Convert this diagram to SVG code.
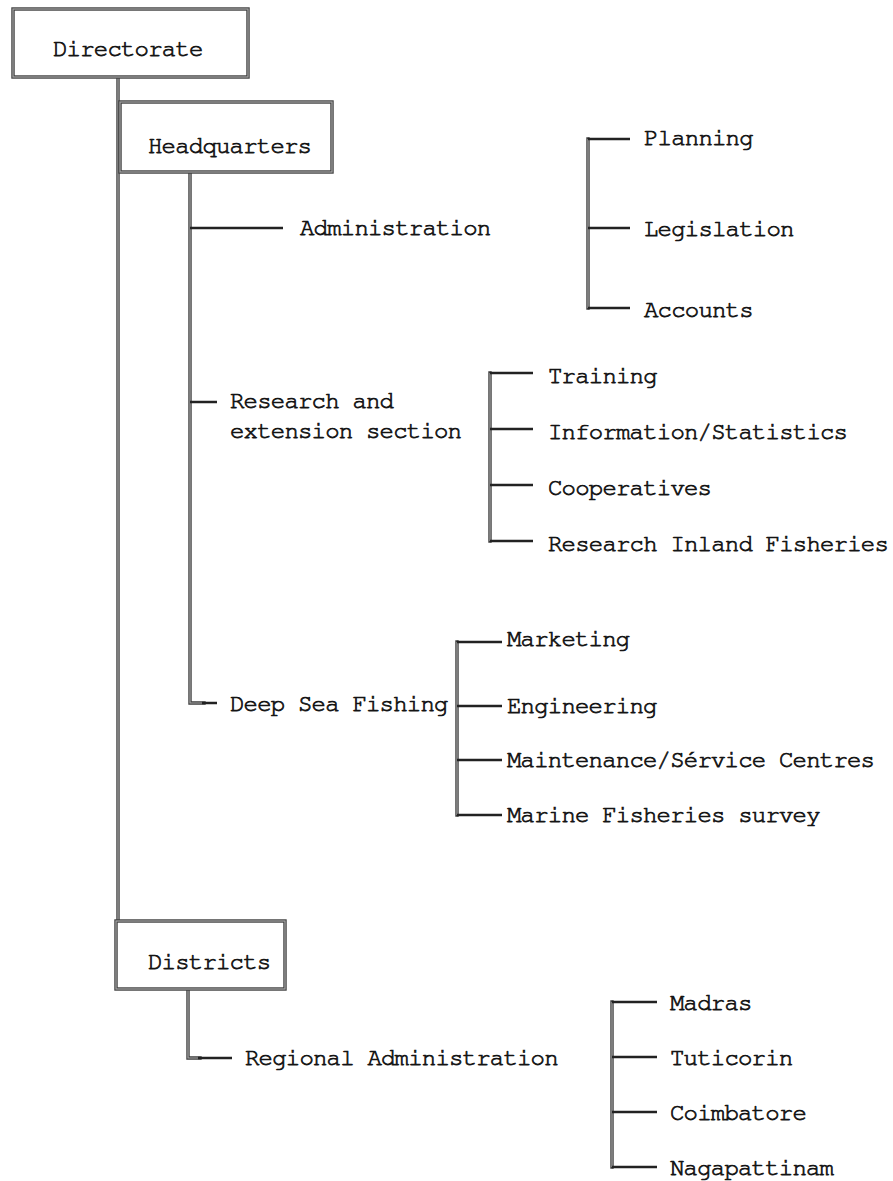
<svg xmlns="http://www.w3.org/2000/svg" xmlns:xlink="http://www.w3.org/1999/xlink" width="893" height="1181" viewBox="0 0 893 1181">
  <style>
    .bg { fill: #ffffff; }
    .t { font-family: "Nimbus Mono PS", "Nimbus Mono L", "FreeMono", "Courier New", "Liberation Mono", monospace; font-size: 24px; letter-spacing: -0.8px; fill: #141414; stroke: #141414; stroke-width: 0.75; }
    .edge { fill: none; stroke: #3c3c3c; stroke-width: 3.4; stroke-linecap: square; stroke-linejoin: miter; }
    .core { fill: none; stroke: #a8a8a8; stroke-width: 1.2; stroke-linecap: butt; }
    .tick { fill: none; stroke: #222; stroke-width: 2.6; stroke-linecap: butt; }
    .box { fill: #ffffff; stroke: #3c3c3c; stroke-width: 3.4; }
    .boxcore { fill: none; stroke: #a8a8a8; stroke-width: 1.2; }
  </style>
  <defs>
    <!-- trunk lines and brackets (pen-drawn, hollow look) -->
    <path id="trunks" d="
      M118 77 V921
      M190 172 V703 H204
      M188 989 V1058 H200
      M588 139 V308
      M490 373 V541
      M457 642 V815
      M612 1002 V1167" />
    <!-- short typed dashes leading to each label -->
    <path id="ticks" d="
      M190 228 H283
      M190 402 H217
      M202 703 H217
      M198 1058 H232
      M588 139 H630 M588 228 H630 M588 308 H630
      M490 373 H533 M490 429 H533 M490 485 H533 M490 541 H533
      M457 642 H502 M457 706 H502 M457 760 H502 M457 815 H502
      M612 1002 H657 M612 1057 H657 M612 1112 H657 M612 1167 H657" />
  </defs>

  <rect class="bg" x="0" y="0" width="893" height="1181" />

  <g id="connectors">
    <use xlink:href="#trunks" href="#trunks" class="edge" />
    <use xlink:href="#trunks" href="#trunks" class="core" />
    <use xlink:href="#ticks" href="#ticks" class="tick" />
  </g>

  <g id="directorate">
    <rect class="box" x="13" y="9" width="235" height="68" />
    <rect class="boxcore" x="13" y="9" width="235" height="68" />
    <text class="t" x="53" y="56">Directorate</text>
  </g>

  <g id="headquarters">
    <rect class="box" x="120" y="102" width="212" height="70" />
    <rect class="boxcore" x="120" y="102" width="212" height="70" />
    <text class="t" x="148" y="153">Headquarters</text>
  </g>

  <g id="administration">
    <text class="t" x="300" y="235">Administration</text>
  </g>
  <g id="planning"><text class="t" x="644" y="145">Planning</text></g>
  <g id="legislation"><text class="t" x="644" y="236">Legislation</text></g>
  <g id="accounts"><text class="t" x="644" y="317">Accounts</text></g>

  <g id="research-extension">
    <text class="t" x="230" y="408">Research and</text>
    <text class="t" x="230" y="438">extension section</text>
  </g>
  <g id="training"><text class="t" x="548" y="383">Training</text></g>
  <g id="information"><text class="t" x="548" y="439">Information/Statistics</text></g>
  <g id="cooperatives"><text class="t" x="548" y="495">Cooperatives</text></g>
  <g id="research-inland"><text class="t" x="548" y="551">Research Inland Fisheries</text></g>

  <g id="deep-sea"><text class="t" x="230" y="711">Deep Sea Fishing</text></g>
  <g id="marketing"><text class="t" x="507" y="646">Marketing</text></g>
  <g id="engineering"><text class="t" x="507" y="713">Engineering</text></g>
  <g id="maintenance"><text class="t" x="507" y="767">Maintenance/Sérvice Centres</text></g>
  <g id="marine-survey"><text class="t" x="507" y="822">Marine Fisheries survey</text></g>

  <g id="districts">
    <rect class="box" x="116" y="921" width="169" height="68" />
    <rect class="boxcore" x="116" y="921" width="169" height="68" />
    <text class="t" x="148" y="969">Districts</text>
  </g>
  <g id="regional"><text class="t" x="245" y="1065">Regional Administration</text></g>
  <g id="madras"><text class="t" x="670" y="1010">Madras</text></g>
  <g id="tuticorin"><text class="t" x="670" y="1065">Tuticorin</text></g>
  <g id="coimbatore"><text class="t" x="670" y="1120">Coimbatore</text></g>
  <g id="nagapattinam"><text class="t" x="670" y="1175">Nagapattinam</text></g>
</svg>
